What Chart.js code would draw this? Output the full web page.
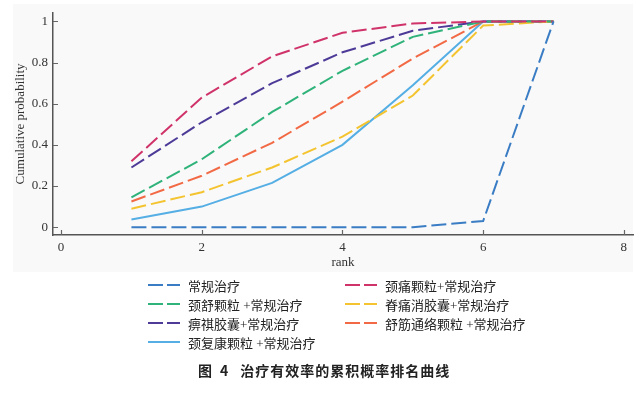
<!DOCTYPE html>
<html>
<head>
<meta charset="utf-8">
<script src="https://cdn.jsdelivr.net/npm/chart.js@4.4.0/dist/chart.umd.min.js"></script>
<style>
  html, body { margin: 0; padding: 0; background: #ffffff; }
  #wrap { position: relative; width: 641px; height: 393px; overflow: hidden; }
  #bg { position: absolute; left: 13px; top: 4px; width: 620px; height: 268px; background: #f9f9f9; }
  #c { position: absolute; left: 0; top: 0; }
  .leg { position: absolute; height: 19px; display: flex; align-items: center;
         font-family: "Liberation Serif", "Noto Sans CJK SC", serif; font-size: 13px; color: #222; white-space: nowrap; }
  .leg svg { margin-right: 8px; }
  #cap { position: absolute; left: 198px; top: 360px; white-space: nowrap;
         font-family: "Noto Sans CJK SC", sans-serif; font-weight: bold; font-size: 14px; color: #222; }
</style>
</head>
<body>
<div id="wrap">
  <div id="bg"></div>
  <canvas id="c" width="641" height="393"></canvas>
  <div id="legend"></div>
  <div id="cap"><span>图</span><span style="margin-left:8px">4</span><span style="margin-left:12px;letter-spacing:1px">治疗有效率的累积概率排名曲线</span></div>
</div>
<script>
const ranks = [1, 2, 3, 4, 5, 6, 7];
const seriesNames = [
  "常规治疗",
  "颈痛颗粒+常规治疗",
  "颈舒颗粒 +常规治疗",
  "脊痛消胶囊+常规治疗",
  "痹祺胶囊+常规治疗",
  "舒筋通络颗粒 +常规治疗",
  "颈复康颗粒 +常规治疗"
];
const conventional = [0, 0, 0, 0, 0, 0.03, 1];
const jingtong     = [0.32, 0.63, 0.83, 0.945, 0.99, 1, 1];
const jingshu      = [0.145, 0.33, 0.56, 0.76, 0.925, 1, 1];
const jitongxiao   = [0.09, 0.17, 0.29, 0.44, 0.64, 0.98, 1];
const biqi         = [0.29, 0.51, 0.70, 0.85, 0.955, 1, 1];
const shujin       = [0.125, 0.25, 0.41, 0.61, 0.82, 1, 1];
const jingfukang   = [0.037, 0.10, 0.215, 0.40, 0.69, 1, 1];
const xTicks = [0, 2, 4, 6, 8];
const yTicks = [0, 0.2, 0.4, 0.6, 0.8, 1];

const seriesValues = [conventional, jingtong, jingshu, jitongxiao, biqi, shujin, jingfukang];
const colors = ["#3b7dc4", "#d0336a", "#2fb37a", "#f4c430", "#4e3b98", "#f26a45", "#55aee4"];
const dashed = [true, true, true, true, true, true, false];

const datasets = seriesNames.map((name, i) => ({
  label: name,
  data: ranks.map((r, j) => ({ x: r, y: seriesValues[i][j] })),
  borderColor: colors[i],
  backgroundColor: colors[i],
  borderWidth: 2,
  borderDash: dashed[i] ? [15, 5] : [],
  pointRadius: 0,
  fill: false,
  tension: 0
}));
const tickFont = { family: "Liberation Serif", size: 13 };

const inwardTicks = {
  id: 'inwardTicks',
  afterDraw(chart) {
    const ctx = chart.ctx;
    const xs = chart.scales.x, ys = chart.scales.y;
    const ca = chart.chartArea;
    ctx.save();
    ctx.strokeStyle = '#666';
    ctx.lineWidth = 1.2;
    ctx.beginPath();
    xTicks.forEach(v => {
      const px = Math.round(xs.getPixelForValue(v)) + 0.5;
      ctx.moveTo(px, ca.bottom);
      ctx.lineTo(px, ca.bottom - 5);
    });
    yTicks.forEach(v => {
      const py = Math.round(ys.getPixelForValue(v)) + 0.5;
      ctx.moveTo(ca.left, py);
      ctx.lineTo(ca.left + 5, py);
    });
    ctx.stroke();
    ctx.restore();
  }
};

new Chart(document.getElementById('c'), {
  type: 'line',
  data: { datasets },
  options: {
    responsive: false,
    animation: false,
    devicePixelRatio: 1,
    layout: { padding: { left: 13, top: 5, right: 8, bottom: 123 } },
    plugins: { legend: { display: false }, tooltip: { enabled: false } },
    scales: {
      x: {
        type: 'linear',
        min: -0.115, max: 8.13,
        afterBuildTicks(s) { s.ticks = xTicks.map(v => ({ value: v })); },
        afterFit(s) { s.height = 35; },
        grid: { display: false, drawTicks: false },
        border: { display: true, color: '#555', width: 1.5 },
        ticks: { font: tickFont, color: '#333', padding: 5, maxRotation: 0, callback: v => String(v) },
        title: { display: true, text: 'rank', font: tickFont, color: '#333', padding: 0 }
      },
      y: {
        type: 'linear',
        min: -0.038, max: 1.042,
        afterBuildTicks(s) { s.ticks = yTicks.map(v => ({ value: v })); },
        afterFit(s) { s.width = 40; },
        grid: { display: false, drawTicks: false },
        border: { display: true, color: '#555', width: 1.5 },
        ticks: { font: tickFont, color: '#333', padding: 5, callback: v => String(Math.round(v * 10) / 10) },
        title: { display: true, text: 'Cumulative probability', font: tickFont, color: '#333', padding: 0 }
      }
    }
  },
  plugins: [inwardTicks]
});

// HTML legend, two columns, built from the series arrays
const legendPos = [
  [148, 285], [345, 285],
  [148, 304], [345, 304],
  [148, 323], [345, 323],
  [148, 342]
];
const leg = document.getElementById('legend');
seriesNames.forEach((name, i) => {
  const d = document.createElement('div');
  d.className = 'leg';
  d.style.left = legendPos[i][0] + 'px';
  d.style.top = (legendPos[i][1] - 9.5) + 'px';
  const dash = dashed[i] ? 'stroke-dasharray="15,4"' : '';
  d.innerHTML = '<svg width="32" height="6"><line x1="0" y1="3" x2="32" y2="3" stroke="' + colors[i] +
    '" stroke-width="2" ' + dash + '/></svg><span>' + name + '</span>';
  leg.appendChild(d);
});
</script>
</body>
</html>
